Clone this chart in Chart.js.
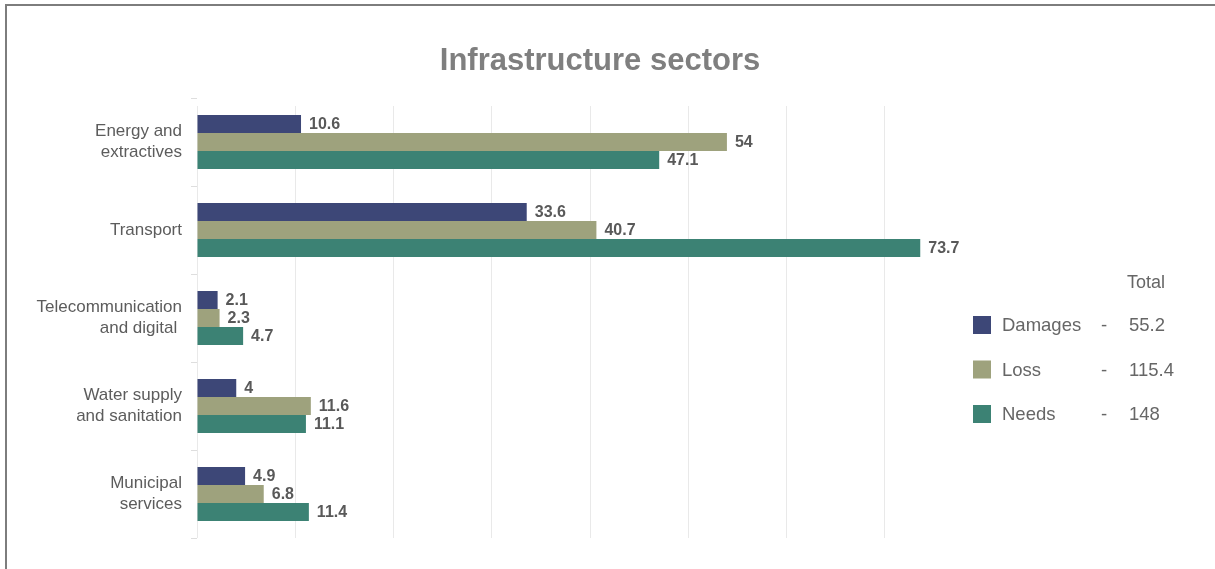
<!DOCTYPE html>
<html>
<head>
<meta charset="utf-8">
<script src="https://cdn.jsdelivr.net/npm/chart.js@4.4.1/dist/chart.umd.min.js"></script>
<style>
  html, body { margin: 0; padding: 0; background: #ffffff; overflow: hidden; }
  #wrap { position: relative; width: 1215px; height: 569px; }
  #frame { position: absolute; left: 5px; top: 4px; width: 1300px; height: 700px;
           border-left: 2px solid #7d7d7d; border-top: 2px solid #7d7d7d; }
  #chart { position: absolute; left: 0; top: 0; }
</style>
</head>
<body>
<div id="wrap">
  <div id="frame"></div>
  <canvas id="chart" width="1215" height="569"></canvas>
</div>
<script>
// Sectors (multi-line labels) and values in US$ millions
const categories = [
  ['Energy and', 'extractives'],
  ['Transport'],
  ['Telecommunication', 'and digital '],
  ['Water supply', 'and sanitation'],
  ['Municipal', 'services']
];
const seriesNames = ['Damages', 'Loss', 'Needs'];
const damages = [10.6, 33.6, 2.1, 4, 4.9];
const loss    = [54, 40.7, 2.3, 11.6, 6.8];
const needs   = [47.1, 73.7, 4.7, 11.1, 11.4];
const seriesColors = ['#3d4777', '#9ea27d', '#3c8274'];

const titleText = 'Infrastructure sectors';
const totalHeading = 'Total';

const FONT = "'Liberation Sans', Arial, sans-serif";
const fmt = v => (Math.round(v * 10) / 10).toString();

const datasets = [damages, loss, needs].map((vals, i) => ({
  label: seriesNames[i],
  data: vals,
  backgroundColor: seriesColors[i],
  borderWidth: 0,
  barPercentage: 1.0,
  categoryPercentage: 0.614
}));

// Vertical gridlines (start a little below the top of the plot area)
const valueGrid = {
  id: 'valueGrid',
  beforeDatasetsDraw(chart) {
    const { ctx, chartArea, scales } = chart;
    ctx.save();
    ctx.strokeStyle = '#e9e9e9';
    ctx.lineWidth = 1;
    scales.x.ticks.forEach(t => {
      const x = Math.round(scales.x.getPixelForValue(t.value)) + 0.5;
      ctx.beginPath();
      ctx.moveTo(x, chartArea.top + 8);
      ctx.lineTo(x, chartArea.bottom);
      ctx.stroke();
    });
    ctx.restore();
  }
};

// Title, value labels and the totals legend
const decorations = {
  id: 'decorations',
  afterDatasetsDraw(chart) {
    const ctx = chart.ctx;
    ctx.save();
    ctx.font = `bold 16px ${FONT}`;
    ctx.fillStyle = '#595959';
    ctx.textAlign = 'left';
    ctx.textBaseline = 'middle';
    chart.data.datasets.forEach((ds, di) => {
      chart.getDatasetMeta(di).data.forEach((bar, i) => {
        ctx.fillText(fmt(ds.data[i]), bar.x + 8, bar.y + 1);
      });
    });
    ctx.restore();
  },
  afterDraw(chart) {
    const ctx = chart.ctx;
    ctx.save();
    // title
    ctx.font = `bold 31px ${FONT}`;
    ctx.fillStyle = '#7f7f7f';
    ctx.textAlign = 'center';
    ctx.textBaseline = 'alphabetic';
    ctx.fillText(titleText, 600, 70);

    // legend with totals
    ctx.textBaseline = 'middle';
    ctx.textAlign = 'left';
    ctx.font = `18px ${FONT}`;
    ctx.fillStyle = '#666666';
    ctx.fillText(totalHeading, 1127, 283);
    chart.data.datasets.forEach((ds, di) => {
      const cy = 325 + di * 44.5;
      ctx.fillStyle = ds.backgroundColor;
      ctx.fillRect(973, cy - 9, 18, 18);
      ctx.font = `18.5px ${FONT}`;
      ctx.fillStyle = '#666666';
      ctx.textAlign = 'left';
      ctx.fillText(ds.label, 1002, cy + 1);
      ctx.textAlign = 'center';
      ctx.fillText('-', 1104, cy + 1);
      ctx.textAlign = 'left';
      const total = ds.data.reduce((a, b) => a + b, 0);
      ctx.fillText(fmt(total), 1129, cy + 1);
    });
    ctx.restore();
  }
};

new Chart(document.getElementById('chart'), {
  type: 'bar',
  data: { labels: categories, datasets },
  options: {
    indexAxis: 'y',
    responsive: false,
    animation: false,
    layout: { padding: { top: 98, right: 282, bottom: 31, left: 0 } },
    plugins: {
      legend: { display: false },
      title: { display: false },
      tooltip: { enabled: false }
    },
    scales: {
      x: {
        min: 0,
        max: 75,
        ticks: { display: false, stepSize: 10 },
        afterBuildTicks: axis => { axis.ticks = axis.ticks.filter(t => t.value <= 70); },
        grid: { display: true, drawOnChartArea: false, drawTicks: false, color: 'rgba(0,0,0,0)' },
        border: { display: false }
      },
      y: {
        afterFit: scale => { scale.width = 197; },
        ticks: {
          color: '#5c5c5c',
          font: { family: FONT, size: 17, lineHeight: 1.2 },
          padding: 9
        },
        grid: { offset: true, drawOnChartArea: false, color: '#dedede', tickLength: 6 },
        border: { display: false }
      }
    }
  },
  plugins: [valueGrid, decorations]
});
</script>
</body>
</html>
